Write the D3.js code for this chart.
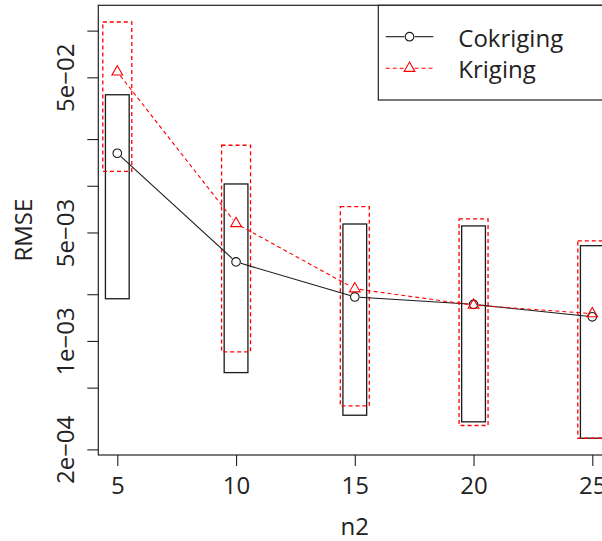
<!DOCTYPE html>
<html>
<head>
<meta charset="utf-8">
<script src="https://cdn.jsdelivr.net/npm/d3@7"></script>
<style>
  html, body { margin: 0; padding: 0; background: #ffffff; }
  #rmse-chart { width: 602px; height: 541px; overflow: hidden; }
</style>
</head>
<body>
<div id="rmse-chart"></div>
<script>
// RMSE of cokriging vs kriging against n2 (log scale), with min/max boxes
const n2Values = [5, 10, 15, 20, 25];

const cokrigingRMSE = [0.0162, 0.00323, 0.00192, 0.00172, 0.00143];
const cokrigingLow  = [0.00187, 0.000625, 0.000332, 0.000301, 0.000236];
const cokrigingHigh = [0.0386, 0.01027, 0.00567, 0.00551, 0.00411];

const krigingRMSE = [0.0542, 0.00571, 0.00217, 0.00170, 0.00150];
const krigingLow  = [0.0124, 0.000849, 0.000381, 0.000285, 0.000236];
const krigingHigh = [0.1136, 0.01824, 0.00733, 0.00611, 0.00441];

const xTickValues = [5, 10, 15, 20, 25];
const yTickValues = [2e-4, 5e-4, 1e-3, 2e-3, 5e-3, 1e-2, 2e-2, 5e-2, 1e-1];
const yTickLabels = ["2e\u221204", "", "1e\u221203", "", "5e\u221203", "", "", "5e\u221202", ""];

const seriesNames = ["Cokriging", "Kriging"];

// Constants and configuration
const config = {
  width: 602,
  height: 541,
  plot: { left: 98.3, right: 611.3, top: 5.3, bottom: 455 },
  xDomain: [4.2, 25.8],
  yDomain: [1.84e-4, 0.1456],
  tickSize: 11,
  boxHalf: { cokriging: 0.5, kriging: 0.61 },
  pointGap: 5,
  colors: {
    cokriging: "#1a1a1a",
    kriging: "#ff0000",
    axis: "#222222",
    text: "#222222"
  },
  dash: "4,3",
  font: "'Open Sans', 'Noto Sans', sans-serif",
  fontSize: "24px"
};

const svg = d3.select("#rmse-chart").append("svg")
  .attr("width", config.width)
  .attr("height", config.height)
  .style("background", "#ffffff")
  .style("font-family", config.font);

// Setup scales
const x = d3.scaleLinear().domain(config.xDomain).range([config.plot.left, config.plot.right]);
const y = d3.scaleLog().domain(config.yDomain).range([config.plot.bottom, config.plot.top]);

const cokriging = n2Values.map((n, i) => ({ n, v: cokrigingRMSE[i], lo: cokrigingLow[i], hi: cokrigingHigh[i] }));
const kriging = n2Values.map((n, i) => ({ n, v: krigingRMSE[i], lo: krigingLow[i], hi: krigingHigh[i] }));

// Range boxes
function drawBoxes(data, half, color, dash) {
  svg.append("g")
    .selectAll("rect")
    .data(data)
    .join("rect")
    .attr("x", d => x(d.n - half))
    .attr("y", d => y(d.hi))
    .attr("width", d => x(d.n + half) - x(d.n - half))
    .attr("height", d => y(d.lo) - y(d.hi))
    .attr("fill", "none")
    .attr("stroke", color)
    .attr("stroke-width", 1.3)
    .attr("stroke-dasharray", dash);
}

drawBoxes(cokriging, config.boxHalf.cokriging, config.colors.cokriging, null);
drawBoxes(kriging, config.boxHalf.kriging, config.colors.kriging, config.dash);

// Lines with small gaps around the points (R type "b")
function drawGappedLine(data, color, dash) {
  const segs = d3.pairs(data).map(([a, b]) => {
    const x1 = x(a.n), y1 = y(a.v), x2 = x(b.n), y2 = y(b.v);
    const len = Math.hypot(x2 - x1, y2 - y1);
    const ux = (x2 - x1) / len, uy = (y2 - y1) / len;
    return {
      x1: x1 + ux * config.pointGap, y1: y1 + uy * config.pointGap,
      x2: x2 - ux * config.pointGap, y2: y2 - uy * config.pointGap
    };
  });
  svg.append("g")
    .selectAll("line")
    .data(segs)
    .join("line")
    .attr("x1", d => d.x1).attr("y1", d => d.y1)
    .attr("x2", d => d.x2).attr("y2", d => d.y2)
    .attr("stroke", color)
    .attr("stroke-width", 1.1)
    .attr("stroke-dasharray", dash);
}

drawGappedLine(cokriging, config.colors.cokriging, null);
drawGappedLine(kriging, config.colors.kriging, config.dash);

const circleSymbol = d3.symbol(d3.symbolCircle, Math.PI * 4.3 * 4.3);
const triangleSymbol = d3.symbol(d3.symbolTriangle, 50);

svg.append("g")
  .selectAll("path")
  .data(cokriging)
  .join("path")
  .attr("transform", d => `translate(${x(d.n)},${y(d.v)})`)
  .attr("d", circleSymbol)
  .attr("fill", "none")
  .attr("stroke", config.colors.cokriging)
  .attr("stroke-width", 1.1);

svg.append("g")
  .selectAll("path")
  .data(kriging)
  .join("path")
  .attr("transform", d => `translate(${x(d.n)},${y(d.v)})`)
  .attr("d", triangleSymbol)
  .attr("fill", "none")
  .attr("stroke", config.colors.kriging)
  .attr("stroke-width", 1.1);

// Axes
const xAxis = svg.append("g")
  .attr("transform", `translate(0,${config.plot.bottom})`)
  .call(d3.axisBottom(x).tickValues(xTickValues).tickSize(config.tickSize).tickFormat(d3.format("d")));

xAxis.select(".domain").remove();
xAxis.selectAll("line").attr("stroke", config.colors.axis).attr("stroke-width", 1.1);
xAxis.selectAll("text")
  .attr("y", 39.3)
  .attr("dy", 0)
  .attr("fill", config.colors.text)
  .style("font-family", config.font)
  .style("font-size", config.fontSize);

const yAxis = svg.append("g")
  .attr("transform", `translate(${config.plot.left},0)`)
  .call(d3.axisLeft(y).tickValues(yTickValues).tickSize(config.tickSize)
    .tickFormat((d, i) => yTickLabels[i]));

yAxis.select(".domain").remove();
yAxis.selectAll("line").attr("stroke", config.colors.axis).attr("stroke-width", 1.1);
yAxis.selectAll("text")
  .attr("transform", "rotate(-90)")
  .attr("x", 0)
  .attr("y", -24.3)
  .attr("dy", 0)
  .attr("text-anchor", "middle")
  .attr("fill", config.colors.text)
  .style("font-family", config.font)
  .style("font-size", config.fontSize);

// Plot frame
svg.append("rect")
  .attr("x", config.plot.left)
  .attr("y", config.plot.top)
  .attr("width", config.plot.right - config.plot.left)
  .attr("height", config.plot.bottom - config.plot.top)
  .attr("fill", "none")
  .attr("stroke", config.colors.axis)
  .attr("stroke-width", 1.2);

// Axis titles
svg.append("text")
  .attr("x", (config.plot.left + config.plot.right) / 2)
  .attr("y", 535)
  .attr("text-anchor", "middle")
  .attr("fill", config.colors.text)
  .style("font-size", config.fontSize)
  .text("n2");

svg.append("text")
  .attr("transform", `translate(32,${(config.plot.top + config.plot.bottom) / 2}) rotate(-90)`)
  .attr("text-anchor", "middle")
  .attr("fill", config.colors.text)
  .style("font-size", config.fontSize)
  .text("RMSE");

// Legend (top right, sharing the frame corner)
const legend = svg.append("g").attr("class", "legend");

legend.append("rect")
  .attr("x", 378.3)
  .attr("y", config.plot.top)
  .attr("width", config.plot.right - 378.3)
  .attr("height", 100 - config.plot.top)
  .attr("fill", "#ffffff")
  .attr("stroke", config.colors.axis)
  .attr("stroke-width", 1.2);

const legendData = [
  { label: seriesNames[0], color: config.colors.cokriging, dash: null, symbol: circleSymbol, y: 36.7 },
  { label: seriesNames[1], color: config.colors.kriging, dash: config.dash, symbol: triangleSymbol, y: 68.3 }
];

legendData.forEach(d => {
  const row = legend.append("g").attr("transform", `translate(0,${d.y})`);
  [[385.7, 404.5], [414.5, 433.3]].forEach(([a, b]) => {
    row.append("line")
      .attr("x1", a).attr("x2", b)
      .attr("stroke", d.color)
      .attr("stroke-width", 1.1)
      .attr("stroke-dasharray", d.dash);
  });
  row.append("path")
    .attr("transform", "translate(409.5,0)")
    .attr("d", d.symbol)
    .attr("fill", "none")
    .attr("stroke", d.color)
    .attr("stroke-width", 1.1);
  row.append("text")
    .attr("x", 458.3)
    .attr("y", 10)
    .attr("fill", config.colors.text)
    .style("font-size", config.fontSize)
    .text(d.label);
});
</script>
</body>
</html>
